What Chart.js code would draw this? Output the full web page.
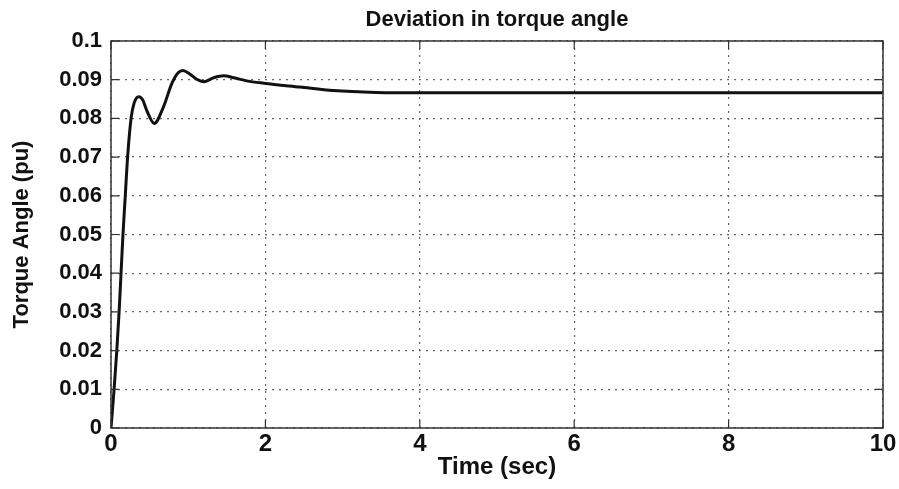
<!DOCTYPE html>
<html>
<head>
<meta charset="utf-8">
<script src="https://cdn.jsdelivr.net/npm/chart.js@4.4.1/dist/chart.umd.min.js"></script>
<style>
  html, body { margin: 0; padding: 0; background: #fff; }
  #chart { display: block; }
</style>
</head>
<body>
<canvas id="chart" width="899" height="489"></canvas>
<script>
// time (sec) and torque angle deviation (pu)
const time = [0, 0.04, 0.075, 0.105, 0.13, 0.155, 0.185, 0.215, 0.26, 0.30, 0.36, 0.41, 0.46, 0.56, 0.68, 0.79, 0.87, 0.93, 1.02, 1.11, 1.20, 1.33, 1.46, 1.59, 1.76, 1.98, 2.45, 2.88, 3.44, 4, 6, 8, 10];
const angle = [0, 0.0100, 0.020, 0.030, 0.040, 0.050, 0.060, 0.070, 0.080, 0.0840, 0.0856, 0.0848, 0.0822, 0.0787, 0.0830, 0.0891, 0.0918, 0.0924, 0.0915, 0.0901, 0.0895, 0.0905, 0.0910, 0.0905, 0.0897, 0.0891, 0.0881, 0.0872, 0.0867, 0.0866, 0.0866, 0.0866, 0.0866];

const xTicks = [0, 2, 4, 6, 8, 10];
const yTickLabels = ['0', '0.01', '0.02', '0.03', '0.04', '0.05', '0.06', '0.07', '0.08', '0.09', '0.1'];

const FONT = "'Liberation Sans', Arial, sans-serif";

// matlab-like frame with inward ticks on all four sides
const frame = {
  id: 'frame',
  afterDraw(chart) {
    const { ctx, chartArea: a, scales } = chart;
    ctx.save();
    ctx.strokeStyle = '#333';
    ctx.lineWidth = 1.5;
    ctx.strokeRect(a.left, a.top, a.right - a.left, a.bottom - a.top);
    ctx.lineWidth = 1.2;
    ctx.beginPath();
    xTicks.forEach((v) => {
      const px = scales.x.getPixelForValue(v);
      ctx.moveTo(px, a.bottom); ctx.lineTo(px, a.bottom - 8);
      ctx.moveTo(px, a.top); ctx.lineTo(px, a.top + 8);
    });
    yTickLabels.forEach((l) => {
      const py = scales.y.getPixelForValue(parseFloat(l));
      ctx.moveTo(a.left, py); ctx.lineTo(a.left + 8, py);
      ctx.moveTo(a.right, py); ctx.lineTo(a.right - 8, py);
    });
    ctx.stroke();
    ctx.restore();
  }
};

new Chart(document.getElementById('chart'), {
  type: 'line',
  data: {
    datasets: [{
      data: time.map((t, i) => ({ x: t, y: angle[i] })),
      borderColor: '#111',
      borderWidth: 3,
      pointRadius: 0,
      cubicInterpolationMode: 'monotone',
      fill: false
    }]
  },
  options: {
    responsive: false,
    animation: false,
    devicePixelRatio: 1,
    layout: { padding: { left: 0, right: 16, top: 0, bottom: 0 } },
    plugins: {
      legend: { display: false },
      tooltip: { enabled: false },
      title: {
        display: true,
        text: 'Deviation in torque angle',
        fullSize: false,
        color: '#111',
        font: { family: FONT, size: 22, weight: 'bold', lineHeight: 1.2 },
        padding: { top: 7, bottom: 7.6 }
      }
    },
    scales: {
      x: {
        type: 'linear',
        min: 0,
        max: 10,
        afterFit: (s) => { s.height = 61; },
        afterBuildTicks: (s) => { s.ticks = xTicks.map((v) => ({ value: v })); },
        border: { display: false, dash: [2, 5] },
        grid: { color: '#666', lineWidth: 1.2, drawTicks: false },
        ticks: {
          color: '#111',
          padding: 2,
          maxRotation: 0,
          font: { family: FONT, size: 24, weight: 'bold' },
          callback: (v) => String(v)
        },
        title: {
          display: true,
          text: 'Time (sec)',
          color: '#111',
          font: { family: FONT, size: 24, weight: 'bold', lineHeight: 1.2 },
          padding: { top: 0, bottom: 7.6 }
        }
      },
      y: {
        min: 0,
        max: 0.1,
        afterFit: (s) => { s.width = 111; },
        afterBuildTicks: (s) => { s.ticks = yTickLabels.map((l) => ({ value: parseFloat(l) })); },
        border: { display: false, dash: [2, 5] },
        grid: { color: '#666', lineWidth: 1.2, drawTicks: false },
        ticks: {
          color: '#111',
          padding: 9,
          font: { family: FONT, size: 22, weight: 'bold' },
          callback: (v, i) => yTickLabels[i]
        },
        title: {
          display: true,
          text: 'Torque Angle (pu)',
          color: '#111',
          font: { family: FONT, size: 22, weight: 'bold', lineHeight: 1.2 },
          padding: { top: 9, bottom: 0 }
        }
      }
    }
  },
  plugins: [frame]
});
</script>
</body>
</html>
